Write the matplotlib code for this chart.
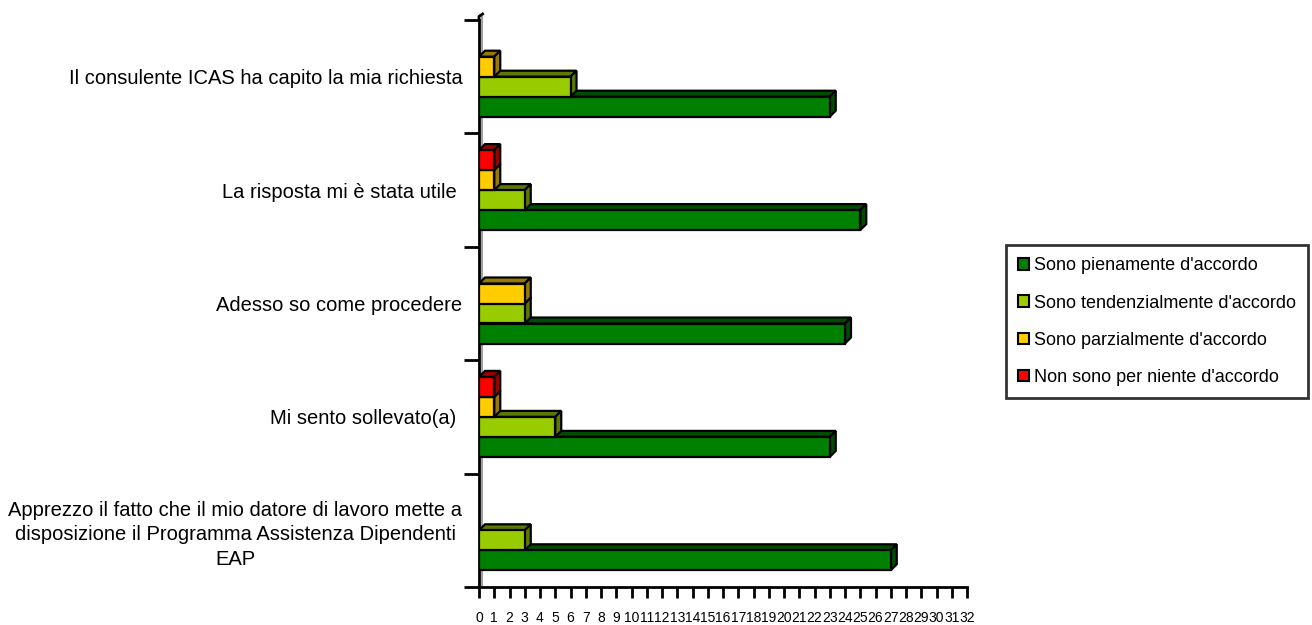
import matplotlib
matplotlib.use("Agg")
import matplotlib.pyplot as plt
from matplotlib.patches import Polygon, Patch

plt.rcParams['font.family'] = ['Liberation Sans', 'DejaVu Sans']

categories = [
    "Il consulente ICAS ha capito la mia richiesta",
    "La risposta mi è stata utile ",
    "Adesso so come procedere",
    "Mi sento sollevato(a) ",
    "Apprezzo il fatto che il mio datore di lavoro mette a\ndisposizione il Programma Assistenza Dipendenti\nEAP",
]
series_names = [
    "Sono pienamente d'accordo",
    "Sono tendenzialmente d'accordo",
    "Sono parzialmente d'accordo",
    "Non sono per niente d'accordo",
]
pienamente = [23, 25, 24, 23, 27]
tendenzialmente = [6, 3, 3, 5, 3]
parzialmente = [1, 1, 3, 1, 0]
per_niente = [0, 1, 0, 1, 0]
x_ticks = list(range(0, 33))

series_values = [pienamente, tendenzialmente, parzialmente, per_niente]
front_colors = ["#008000", "#99CC00", "#FFCC00", "#FF0000"]
shade_colors = ["#004D00", "#5C7A00", "#997A00", "#990000"]

W, H = 1312, 625
fig = plt.figure(figsize=(W / 100, H / 100), dpi=100)
ax_left, ax_right, ax_top, ax_bottom = 479, 967, 20, 587
ax = fig.add_axes([ax_left / W, (H - ax_bottom) / H, (ax_right - ax_left) / W, (ax_bottom - ax_top) / H])

n = len(categories)
xmax = 32
ax.set_xlim(0, xmax)
ax.set_ylim(-0.5, n - 0.5)

px_x = (ax_right - ax_left) / xmax
px_y = (ax_bottom - ax_top) / n
bar_h = 20 / px_y
dx = 6 / px_x
dy = 6 / px_y

positions = [n - 1 - i for i in range(n)]

for s, vals in enumerate(series_values):
    z = 3 + s
    for pos, v in zip(positions, vals):
        if v == 0:
            continue
        yc = pos + (s - 1.5) * bar_h
        ax.barh(yc, v, height=bar_h, color=front_colors[s], edgecolor="black",
                linewidth=1.6, zorder=z + 0.1)
        yb, yt = yc - bar_h / 2, yc + bar_h / 2
        top = Polygon([(0, yt), (v, yt), (v + dx, yt + dy), (dx, yt + dy)], closed=True,
                      facecolor=shade_colors[s], edgecolor="black", linewidth=1.6, zorder=z)
        side = Polygon([(v, yb), (v, yt), (v + dx, yt + dy), (v + dx, yb + dy)], closed=True,
                       facecolor=shade_colors[s], edgecolor="black", linewidth=1.6, zorder=z)
        ax.add_patch(top)
        ax.add_patch(side)

# 3D wall edge
ax.plot([0.2, 0.2], [-0.5 + dy * 0.3, n - 0.5 + dy * 0.5], color="#A0A0A0", lw=1.5, zorder=1,
        clip_on=False)
ax.plot([0, 0, dx * 0.6], [n - 0.5, n - 0.5 + dy * 0.6, n - 0.5 + dy], color="black", lw=2,
        zorder=2, clip_on=False)

for sp in ["top", "right"]:
    ax.spines[sp].set_visible(False)
ax.spines["left"].set_linewidth(2)
ax.spines["bottom"].set_linewidth(2)

ax.set_yticks([i - 0.5 for i in range(n + 1)])
ax.set_yticklabels([])
ax.tick_params(axis="y", which="major", direction="out", length=10.5, width=2)
ax.set_yticks(positions, minor=True)
ax.set_yticklabels(categories, minor=True, fontsize=14.5)
ax.tick_params(axis="y", which="minor", length=0, pad=12)
for t in ax.get_yticklabels(minor=True):
    t.set_multialignment("center")
    t.set_linespacing(1.35)

ax.set_xticks(x_ticks)
ax.set_xticklabels([str(t) for t in x_ticks], fontsize=10)
ax.tick_params(axis="x", direction="out", length=8, width=2, pad=9)

handles = [Patch(facecolor=c, edgecolor="black", linewidth=1.5) for c in front_colors]
leg = fig.legend(handles, series_names, loc="upper left",
                 bbox_to_anchor=(1006 / W, 1 - 245 / H), fontsize=13,
                 frameon=True, fancybox=False, edgecolor="black",
                 handlelength=0.6, handleheight=0.6, handletextpad=0.25,
                 labelspacing=1.12, borderpad=0.68, borderaxespad=0)
leg.get_frame().set_linewidth(2)

fig.savefig("out.png", dpi=100)
